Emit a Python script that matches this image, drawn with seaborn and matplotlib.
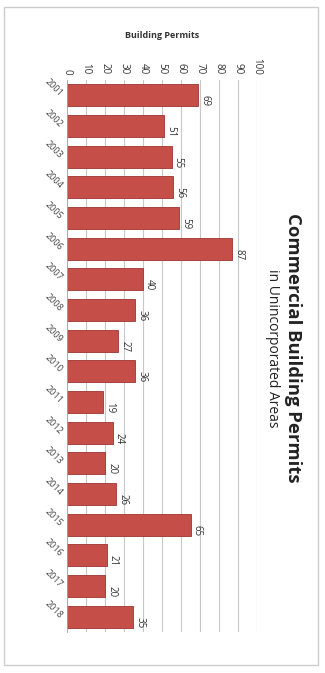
import numpy as np
import pandas as pd
import matplotlib
matplotlib.use("Agg")
import matplotlib.pyplot as plt
import seaborn as sns
from matplotlib.patches import Rectangle

# ---------- DATA ----------
YEARS = ["2001", "2002", "2003", "2004", "2005", "2006", "2007", "2008", "2009",
         "2010", "2011", "2012", "2013", "2014", "2015", "2016", "2017", "2018"]
PERMITS = [69, 51, 55, 56, 59, 87, 40, 36, 27, 36, 19, 24, 20, 26, 65, 21, 20, 35]
X_TICKS = [0, 10, 20, 30, 40, 50, 60, 70, 80, 90, 100]

TITLE = "Commercial Building Permits"
SUBTITLE = "in Unincorporated Areas"
AXIS_TITLE = "Building Permits"

BAR_COLOR = "#c54e48"
EDGE_COLOR = "#9c3430"
GRID_COLOR = "#c8c8c8"

sns.set_style("white")
plt.rcParams["font.family"] = ["Open Sans", "DejaVu Sans"]

df = pd.DataFrame({"year": YEARS, "permits": PERMITS})

fig = plt.figure(figsize=(3.25, 6.73), dpi=100)
ax = fig.add_axes([0.206, 0.061, 0.585, 0.820])

sns.barplot(data=df, x="permits", y="year", orient="h", color=BAR_COLOR,
            width=0.72, edgecolor=EDGE_COLOR, linewidth=0.6, saturation=1, ax=ax)

ax.set_xlim(0, 100)
ax.set_xticks(X_TICKS)
ax.xaxis.tick_top()
ax.xaxis.set_label_position("top")
ax.tick_params(axis="x", length=0, pad=4, labelsize=7, colors="#333333")
for lbl in ax.get_xticklabels():
    lbl.set_rotation(-90)
    lbl.set_va("bottom")
    lbl.set_ha("center")
ax.set_xlabel(AXIS_TITLE, fontsize=6.5, fontweight="bold", color="#333333", labelpad=14)

ax.tick_params(axis="y", length=0, pad=4, labelsize=6.5, colors="#444444")
for lbl in ax.get_yticklabels():
    lbl.set_rotation(-45)
    lbl.set_rotation_mode("anchor")
    lbl.set_ha("right")
    lbl.set_va("center")
ax.set_ylabel("")

ax.grid(axis="x", color=GRID_COLOR, linewidth=0.8)
ax.set_axisbelow(True)
for side in ["top", "right", "bottom"]:
    ax.spines[side].set_visible(False)
ax.spines["left"].set_color("#9aa8c8")
ax.spines["left"].set_linewidth(0.6)

# value labels, rotated like the rest of the page
for i, v in enumerate(PERMITS):
    ax.text(v + 3.5, i, str(v), rotation=-90, ha="left", va="center",
            fontsize=7, color="#333333", rotation_mode="anchor")

fig.text(0.903, 0.483, TITLE, rotation=-90, ha="center", va="center",
         fontsize=13.3, fontweight="bold", color="#222222")
fig.text(0.838, 0.483, SUBTITLE, rotation=-90, ha="center", va="center",
         fontsize=10, color="#222222")

fig.patches.append(Rectangle((0.012, 0.012), 0.968, 0.978, transform=fig.transFigure,
                             fill=False, edgecolor="#cccccc", linewidth=1))

fig.savefig("out.png", dpi=100)
